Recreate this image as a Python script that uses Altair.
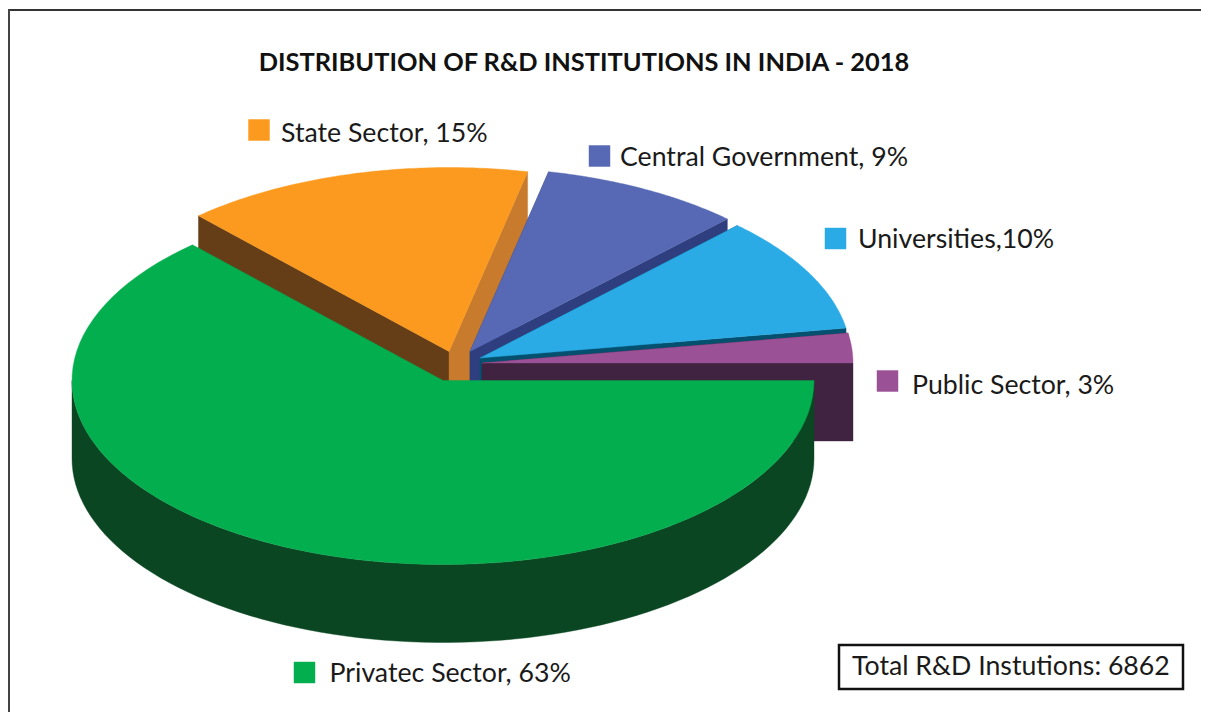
import numpy as np
import altair as alt

# Chart values
TITLE = "DISTRIBUTION OF R&D INSTITUTIONS IN INDIA - 2018"
TOTAL_LABEL = "Total R&D Instutions: 6862"
sectors = ["Privatec Sector", "State Sector", "Central Government", "Universities", "Public Sector"]
shares = [63.2, 15.2, 8.8, 10.2, 2.6]
labels = ["Privatec Sector, 63%", "State Sector, 15%", "Central Government, 9%", "Universities,10%", "Public Sector, 3%"]

# Styling per sector
top_colors = ["#03AE4E", "#FB9A1E", "#5769B4", "#2AABE6", "#9A5196"]
side_colors = ["#0A4622", "#C87B2C", "#2F3E7E", "#04506E", "#3F2340"]
start_face_colors = ["#0A4622", "#653E17", "#2F3E7E", "#04506E", "#3F2340"]
apex_x = [443, 449, 470, 480, 482]
apex_y = [380.5, 351.5, 351.5, 358, 363]
draw_order = [1, 2, 3, 4, 0]

# Layout, page pixels
RX, RY, DEPTH = 371, 184, 78
label_x = [329.5, 281, 620, 858, 912]
label_y = [673.5, 133.5, 157.5, 239.5, 385.5]
key_x = [304.5, 259, 599.5, 835.5, 887.5]
key_y = [672.5, 130, 156, 238.5, 381]
FONT = "Lato"
LABEL_SIZE = 26.7
TITLE_SIZE = 25.4


def feature(points, color):
    ring = [[float(x), float(y)] for x, y in points]
    ring.append(ring[0])
    return {
        "type": "Feature",
        "properties": {"color": color},
        "geometry": {"type": "Polygon", "coordinates": [ring]},
    }


def rim(cx, cy, a, b, n=90):
    t = np.radians(np.linspace(a, b, n))
    return list(zip(cx + RX * np.cos(t), cy + RY * np.sin(t)))


edges = np.concatenate([[0], np.cumsum(shares)]) * 3.6
features = []
for i in draw_order:
    a, b = edges[i], edges[i + 1]
    cx, cy = apex_x[i], apex_y[i]
    top = rim(cx, cy, a, b)
    # flat cut faces first, then the outer wall facing the viewer, then the top
    if i != 0:
        p = top[0]
        features.append(feature([(cx, cy), p, (p[0], p[1] + DEPTH), (cx, cy + DEPTH)], start_face_colors[i]))
        q = top[-1]
        features.append(feature([(cx, cy), q, (q[0], q[1] + DEPTH), (cx, cy + DEPTH)], side_colors[i]))
    if i == 0:
        wall = rim(cx, cy, 0, 180)
        lower = [(x, y + DEPTH) for x, y in reversed(wall)]
        features.append(feature(wall + lower, side_colors[i]))
    features.append(feature([(cx, cy)] + top, top_colors[i]))

pie = (
    alt.Chart(alt.Data(values=features))
    .mark_geoshape(strokeWidth=0.4)
    .encode(
        fill=alt.Fill("properties.color:N", scale=None),
        stroke=alt.Stroke("properties.color:N", scale=None),
    )
    .project(type="identity", scale=1, translate=[-8, -8])
)

rows = [
    {"label": l, "lx": lx - 8, "ly": ly - 8, "kx": kx - 8, "ky": ky - 8, "color": c}
    for l, lx, ly, kx, ky, c in zip(labels, label_x, label_y, key_x, key_y, top_colors)
]
label_data = alt.Data(values=rows)
X = lambda f: alt.X(f, scale=None, axis=None)
Y = lambda f: alt.Y(f, scale=None, axis=None)

keys = (
    alt.Chart(label_data)
    .mark_square(size=460, opacity=1)
    .encode(x=X("kx:Q"), y=Y("ky:Q"), color=alt.Color("color:N", scale=None))
)
texts = (
    alt.Chart(label_data)
    .mark_text(align="left", baseline="middle", font=FONT, fontSize=LABEL_SIZE, color="#1a1a1a")
    .encode(x=X("lx:Q"), y=Y("ly:Q"), text="label:N")
)
title = (
    alt.Chart(alt.Data(values=[{"t": TITLE}]))
    .mark_text(align="center", baseline="middle", font=FONT, fontSize=TITLE_SIZE, fontWeight="bold", color="#111111")
    .encode(x=alt.value(584 - 8), y=alt.value(62.5 - 8), text="t:N")
)
frame_top = alt.Chart(alt.Data(values=[{"a": 1}])).mark_rule(color="#333333", strokeWidth=2).encode(
    x=alt.value(1), x2=alt.value(1193), y=alt.value(2)
)
frame_left = alt.Chart(alt.Data(values=[{"a": 1}])).mark_rule(color="#444444", strokeWidth=2).encode(
    x=alt.value(1), y=alt.value(1), y2=alt.value(704)
)
box = alt.Chart(alt.Data(values=[{"a": 1}])).mark_rect(fill="white", stroke="#111111", strokeWidth=2.5).encode(
    x=alt.value(839 - 8), x2=alt.value(1183 - 8), y=alt.value(645 - 8), y2=alt.value(689 - 8)
)
box_text = (
    alt.Chart(alt.Data(values=[{"t": TOTAL_LABEL}]))
    .mark_text(align="left", baseline="middle", font=FONT, fontSize=LABEL_SIZE, color="#1a1a1a")
    .encode(x=alt.value(852 - 8), y=alt.value(666.5 - 8), text="t:N")
)

chart = (
    alt.layer(frame_top, frame_left, pie, keys, texts, title, box, box_text)
    .properties(width=1193, height=704, padding=0, background="white", autosize=alt.AutoSizeParams(type="none"))
    .configure_view(stroke=None)
)
chart.save("out.html", embed_options={"renderer": "svg", "actions": False})
